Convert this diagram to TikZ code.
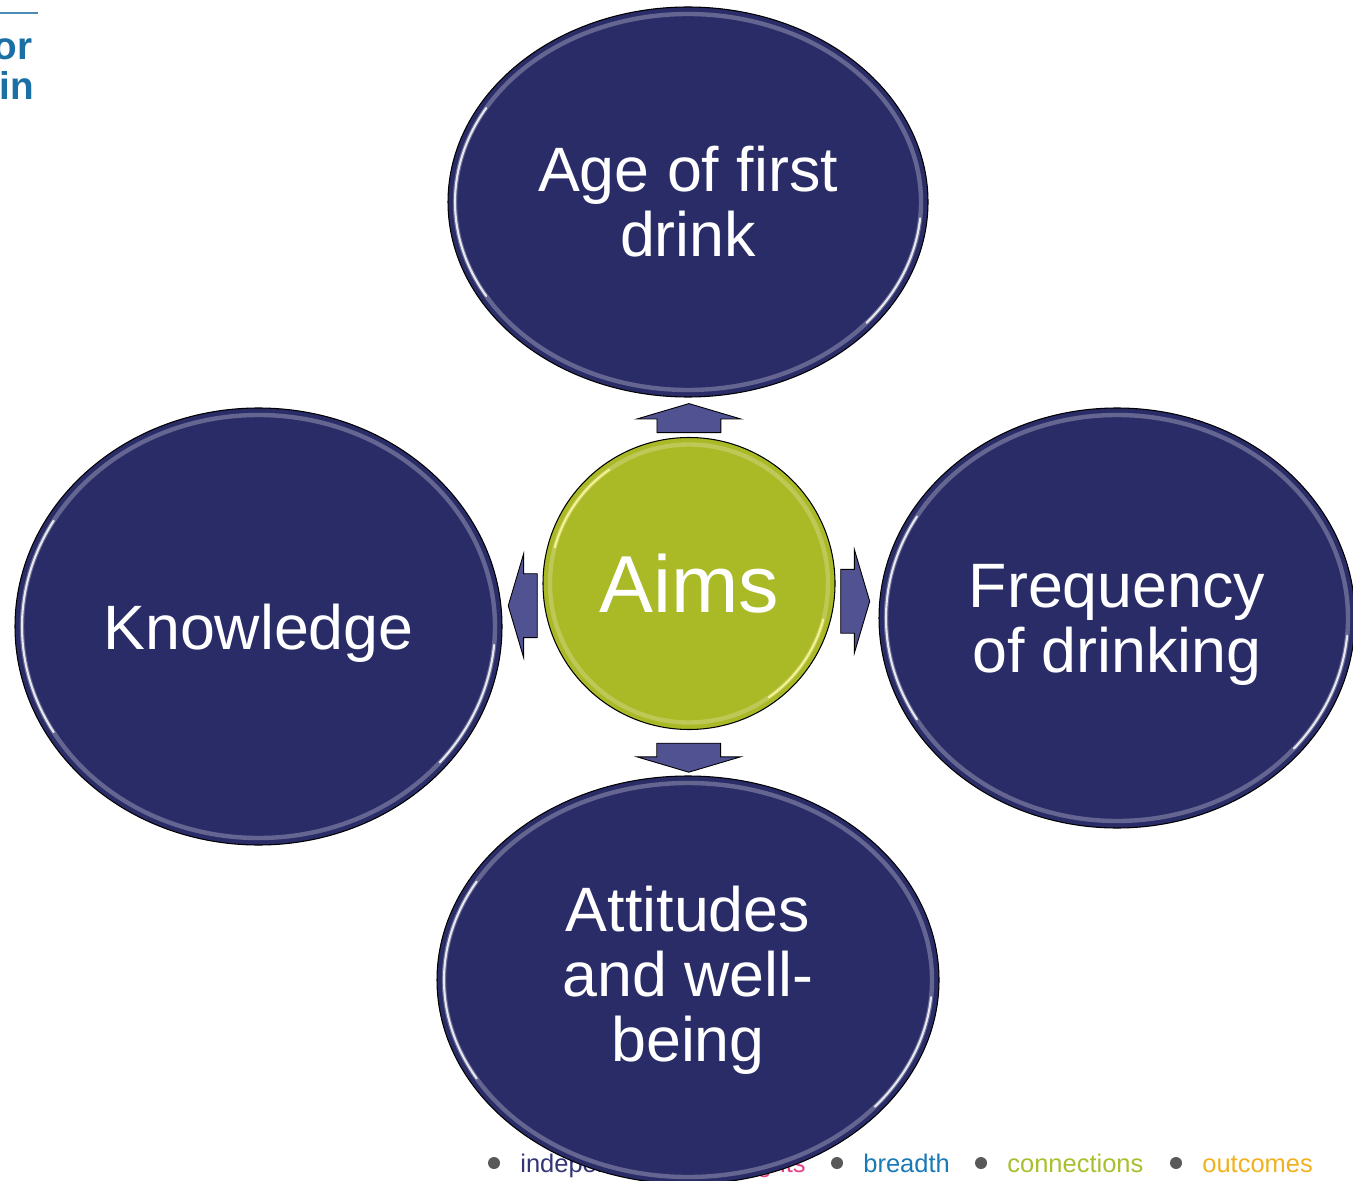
\documentclass[tikz,border=0pt]{standalone}
\usepackage{fontspec}
\setmainfont{Liberation Sans}
\usetikzlibrary{shapes.geometric,shapes.arrows,calc}

\definecolor{navy}{RGB}{42,44,104}
\definecolor{aimgreen}{RGB}{170,185,38}
\definecolor{arrowblue}{RGB}{80,82,146}
\definecolor{logoblue}{RGB}{26,111,165}
\definecolor{tagnavy}{RGB}{52,54,120}
\definecolor{tagpink}{RGB}{226,64,140}
\definecolor{tagblue}{RGB}{26,122,184}
\definecolor{taggreen}{RGB}{168,192,48}
\definecolor{tagorange}{RGB}{240,178,32}

\tikzset{
  bubble/.style={ellipse, draw=black, line width=0.6pt, fill=navy, text=white,
    align=center, inner sep=0pt, font=\fontsize{35.7}{37}\selectfont},
  hub/.style={circle, draw=black, line width=0.6pt, fill=aimgreen, text=white,
    minimum size=5.84cm, inner sep=0pt, font=\fontsize{46}{48}\selectfont},
  blockarrow/.style={single arrow, draw=black, line width=0.5pt, fill=arrowblue,
    inner xsep=0pt, inner ysep=0.63cm, single arrow head extend=0.4cm,
    single arrow tip angle=147, minimum height=0.58cm, anchor=tail},
  rim/.style={line width=2.5pt, draw opacity=0.5},
  glint/.style={white, line width=1.2pt, line cap=round, draw opacity=0.85},
  tag/.style={font=\fontsize{14.5}{16}\selectfont, anchor=base west, inner sep=0pt},
  dot/.style={circle, fill=black!65, inner sep=0pt, minimum size=0.24cm}
}

\begin{document}
\begin{tikzpicture}
  \path[use as bounding box, fill=white] (0,0) rectangle (27.06,23.6);

  % Logo scraps in the corner
  \draw[logoblue!80!white, line width=1.1pt] (0,23.34) coordinate (rulel) -- (0.76,23.34) coordinate (ruler);
  \node (logoor) [anchor=base east, inner sep=0pt, text=logoblue, font=\bfseries\fontsize{22}{24}\selectfont] at (0.66,22.4) {or};
  \node (logoin) [anchor=base east, inner sep=0pt, text=logoblue, font=\bfseries\fontsize{22}{24}\selectfont] at (0.68,21.6) {in};

  % Footer strap line
  \node (dotA) [dot] at (9.88,0.34) {};
  \node (tagA) [tag, text=tagnavy] at (10.4,0.16) {independence};
  \node (dotB) [dot] at (14.0,0.34) {};
  \node (tagB) [tag, anchor=base east, text=tagpink] at (16.12,0.16) {insights};
  \node (dotC) [dot] at (16.74,0.34) {};
  \node (tagC) [tag, text=tagblue] at (17.26,0.16) {breadth};
  \node (dotD) [dot] at (19.62,0.34) {};
  \node (tagD) [tag, text=taggreen] at (20.14,0.16) {connections};
  \node (dotE) [dot] at (23.52,0.34) {};
  \node (tagE) [tag, text=tagorange] at (24.04,0.16) {outcomes};

  % Centre and the four aims
  \node (aims) [hub] at (13.78,11.93) {Aims};
  \node (age) [bubble, minimum width=9.6cm, minimum height=7.8cm] at (13.76,19.56) {Age of first\\drink};
  \node (know) [bubble, text depth=0pt, minimum width=9.74cm, minimum height=8.74cm] at (5.17,11.07) {Knowledge};
  \node (freq) [bubble, text depth=0pt, minimum width=9.52cm, minimum height=8.4cm] at (22.34,11.24) {Frequency\\of drinking};
  \node (att) [bubble, minimum width=10.04cm, minimum height=8.16cm] at (13.76,4.0) {Attitudes\\and well-\\being};

  % Bevel on the bubbles
  \foreach \n/\rx/\ry in {age/4.8/3.9, know/4.87/4.37, freq/4.76/4.2, att/5.02/4.08} {
    \pgfmathsetmacro\ax{\rx-0.14}
    \pgfmathsetmacro\ay{\ry-0.14}
    \draw[rim, navy!45!white] (\n.center) ellipse [x radius=\ax cm, y radius=\ay cm];
    \draw[glint] (\n.center) ++(150:\ax cm and \ay cm) arc[start angle=150, end angle=210, x radius=\ax cm, y radius=\ay cm];
    \draw[glint] (\n.center) ++(-5:\ax cm and \ay cm) arc[start angle=-5, end angle=-40, x radius=\ax cm, y radius=\ay cm];
  }
  \draw[rim, aimgreen!55!white] (aims.center) circle [radius=2.78cm];
  \draw[glint, white!60!yellow] (aims.center) ++(125:2.78cm) arc[start angle=125, end angle=165, radius=2.78cm];
  \draw[glint, white!60!yellow] (aims.center) ++(-15:2.78cm) arc[start angle=-15, end angle=-55, radius=2.78cm];

  % Arrows out of the centre
  \node (toage) [blockarrow, rotate=90] at ($(aims.north)!0.1!(age.south)$) {};
  \node (toatt) [blockarrow, rotate=-90] at ($(aims.south)!0.28!(att.north)$) {};
  \node (tofreq) [blockarrow] at ($(aims.east)!0.11!(freq.west)+(0,-0.28)$) {};
  \node (toknow) [blockarrow, rotate=180] at ($(aims.west)!0.12!(know.east)+(0,-0.34)$) {};
\end{tikzpicture}
\end{document}
